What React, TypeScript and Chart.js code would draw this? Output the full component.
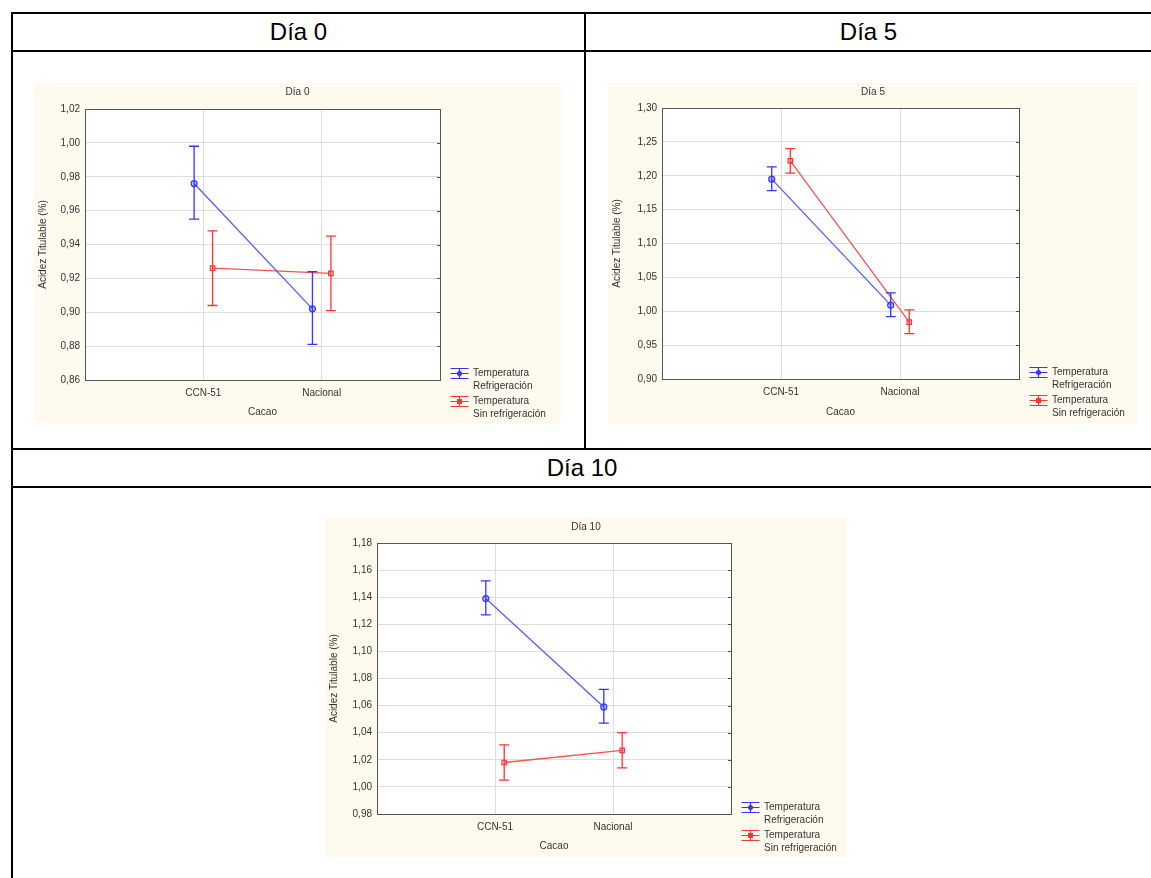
import React, { useEffect, useRef } from 'react';
import { Chart, registerables } from 'chart.js';

Chart.register(...registerables);

// ---------- data ----------
const headerLabels = ['Día 0', 'Día 5', 'Día 10'];
const categories = ['CCN-51', 'Nacional'];
const legendLabels = [
  ['Temperatura', 'Refrigeración'],
  ['Temperatura', 'Sin refrigeración'],
];
const yAxisTitle = 'Acidez Titulable (%)';
const xAxisTitle = 'Cacao';

const day0Ticks = [0.86, 0.88, 0.9, 0.92, 0.94, 0.96, 0.98, 1.0, 1.02];
const day0Refrig = [0.976, 0.902];
const day0RefrigLo = [0.955, 0.881];
const day0RefrigHi = [0.998, 0.924];
const day0Sin = [0.926, 0.923];
const day0SinLo = [0.904, 0.901];
const day0SinHi = [0.948, 0.945];

const day5Ticks = [0.9, 0.95, 1.0, 1.05, 1.1, 1.15, 1.2, 1.25, 1.3];
const day5Refrig = [1.195, 1.009];
const day5RefrigLo = [1.178, 0.992];
const day5RefrigHi = [1.213, 1.027];
const day5Sin = [1.222, 0.984];
const day5SinLo = [1.204, 0.967];
const day5SinHi = [1.240, 1.002];

const day10Ticks = [0.98, 1.0, 1.02, 1.04, 1.06, 1.08, 1.1, 1.12, 1.14, 1.16, 1.18];
const day10Refrig = [1.139, 1.059];
const day10RefrigLo = [1.127, 1.047];
const day10RefrigHi = [1.152, 1.072];
const day10Sin = [1.018, 1.027];
const day10SinLo = [1.005, 1.014];
const day10SinHi = [1.031, 1.040];

// ---------- styles ----------
const FONT = "'Liberation Sans', Arial, Helvetica, sans-serif";
const TEXT = '#333333';
const GRID = '#dddddd';
const PANEL_BG = '#fffaee';
const seriesStyles = [
  { color: '#3535ff', line: '#5a5aff', fill: 'rgba(80,80,255,0.35)', point: 'circle', radius: 3, offset: -0.078 },
  { color: '#ff3535', line: '#ff5050', fill: 'rgba(255,80,80,0.15)', point: 'rect', radius: 3.2, offset: 0.078 },
];

type Insets = { left: number; top: number; right: number; bottom: number };

const plotBgPlugin = {
  id: 'plotBg',
  beforeDraw(chart: any) {
    const a = chart.chartArea;
    const ctx = chart.ctx;
    ctx.save();
    ctx.fillStyle = '#ffffff';
    ctx.fillRect(a.left, a.top, a.right - a.left, a.bottom - a.top);
    ctx.restore();
  },
};

const errorBarPlugin = {
  id: 'errorBars',
  afterDatasetsDraw(chart: any) {
    const ctx = chart.ctx;
    const ys = chart.scales.y;
    chart.data.datasets.forEach((ds: any, i: number) => {
      const meta = chart.getDatasetMeta(i);
      ctx.save();
      ctx.strokeStyle = ds.errColor;
      ctx.lineWidth = 1.3;
      meta.data.forEach((pt: any, j: number) => {
        const x = pt.x;
        const yl = ys.getPixelForValue(ds.errLo[j]);
        const yh = ys.getPixelForValue(ds.errHi[j]);
        ctx.beginPath();
        ctx.moveTo(x, yl);
        ctx.lineTo(x, yh);
        ctx.moveTo(x - 5, yl);
        ctx.lineTo(x + 5, yl);
        ctx.moveTo(x - 5, yh);
        ctx.lineTo(x + 5, yh);
        ctx.stroke();
      });
      ctx.restore();
    });
  },
};

const framePlugin = {
  id: 'frameLegend',
  afterDraw(chart: any, _args: any, opts: any) {
    const ctx = chart.ctx;
    const a = chart.chartArea;
    ctx.save();
    // plot frame
    ctx.strokeStyle = '#555555';
    ctx.lineWidth = 1;
    ctx.strokeRect(Math.round(a.left) + 0.5, Math.round(a.top) + 0.5, Math.round(a.right - a.left), Math.round(a.bottom - a.top));
    // small tick marks on the right border
    const ys = chart.scales.y;
    ys.ticks.forEach((t: any) => {
      const y = Math.round(ys.getPixelForValue(t.value)) + 0.5;
      ctx.beginPath();
      ctx.moveTo(a.right - 3, y);
      ctx.lineTo(a.right, y);
      ctx.stroke();
    });
    // title
    ctx.fillStyle = TEXT;
    ctx.font = `10px ${FONT}`;
    ctx.textAlign = 'center';
    ctx.textBaseline = 'middle';
    ctx.fillText(opts.title, chart.width / 2, opts.titleY);
    // legend
    const ix = a.right + 19.5;
    const tx = a.right + 33;
    const rowsY = [a.bottom - 7, a.bottom + 21];
    chart.data.datasets.forEach((ds: any, i: number) => {
      const st = seriesStyles[i];
      const cy = Math.round(rowsY[i]) + 0.5;
      ctx.strokeStyle = st.color;
      ctx.lineWidth = 1.2;
      ctx.beginPath();
      ctx.moveTo(ix - 9, cy - 5);
      ctx.lineTo(ix + 9, cy - 5);
      ctx.moveTo(ix - 9, cy + 5);
      ctx.lineTo(ix + 9, cy + 5);
      ctx.moveTo(ix - 9, cy);
      ctx.lineTo(ix + 9, cy);
      ctx.moveTo(ix, cy - 5);
      ctx.lineTo(ix, cy + 5);
      ctx.stroke();
      ctx.fillStyle = st.color;
      if (st.point === 'circle') {
        ctx.beginPath();
        ctx.arc(ix, cy, 2.5, 0, Math.PI * 2);
        ctx.fill();
      } else {
        ctx.fillRect(ix - 2.5, cy - 2.5, 5, 5);
      }
      ctx.fillStyle = TEXT;
      ctx.textAlign = 'left';
      ctx.textBaseline = 'middle';
      legendLabels[i].forEach((line, k) => {
        ctx.fillText(line, tx, rowsY[i] + k * 13);
      });
    });
    ctx.restore();
  },
};

type PanelProps = {
  left: number;
  top: number;
  width: number;
  height: number;
  title: string;
  ticks: number[];
  means: number[][];
  los: number[][];
  his: number[][];
  inset: Insets;
};

function ChartPanel(p: PanelProps) {
  const ref = useRef<HTMLCanvasElement | null>(null);
  useEffect(() => {
    if (!ref.current) return;
    const font = { family: FONT, size: 10 };
    const chart = new Chart(ref.current, {
      type: 'line',
      data: {
        datasets: seriesStyles.map((s, i) => ({
          label: legendLabels[i].join(' '),
          data: p.means[i].map((v, j) => ({ x: j + 1 + s.offset, y: v })),
          errLo: p.los[i],
          errHi: p.his[i],
          errColor: s.color,
          borderColor: s.line,
          borderWidth: 1.3,
          pointStyle: s.point,
          pointRadius: s.radius,
          pointBorderColor: s.color,
          pointBackgroundColor: s.fill,
          pointBorderWidth: 1.2,
          showLine: true,
          fill: false,
          tension: 0,
        })) as any,
      },
      options: {
        animation: false,
        responsive: false,
        maintainAspectRatio: false,
        events: [],
        layout: { padding: { top: p.inset.top, left: 0, right: p.inset.right, bottom: 0 } },
        plugins: {
          legend: { display: false },
          tooltip: { enabled: false },
          title: { display: false },
          frameLegend: { title: p.title, titleY: 9 },
        } as any,
        scales: {
          x: {
            type: 'linear',
            min: 0,
            max: categories.length + 1,
            afterBuildTicks: (sc: any) => {
              sc.ticks = categories.map((_, i) => ({ value: i + 1 }));
            },
            afterFit: (sc: any) => {
              sc.height = p.inset.bottom;
            },
            ticks: {
              callback: (v: any) => categories[Math.round(Number(v)) - 1] ?? '',
              autoSkip: false,
              maxRotation: 0,
              padding: 7,
              color: TEXT,
              font,
            },
            grid: { color: GRID, drawTicks: false, lineWidth: 1 },
            border: { display: false },
            title: { display: true, text: xAxisTitle, color: TEXT, font, padding: { top: 0, bottom: 5 } },
          },
          y: {
            type: 'linear',
            min: p.ticks[0],
            max: p.ticks[p.ticks.length - 1],
            afterBuildTicks: (sc: any) => {
              sc.ticks = p.ticks.map((v) => ({ value: v }));
            },
            afterFit: (sc: any) => {
              sc.width = p.inset.left;
            },
            ticks: {
              callback: (v: any) => Number(v).toFixed(2).replace('.', ','),
              padding: 5,
              color: TEXT,
              font,
            },
            grid: { color: GRID, drawTicks: false, lineWidth: 1 },
            border: { display: false },
            title: { display: true, text: yAxisTitle, color: TEXT, font, padding: { top: 3, bottom: 0 } },
          },
        },
      } as any,
      plugins: [plotBgPlugin, errorBarPlugin, framePlugin],
    });
    return () => chart.destroy();
  }, []);
  return (
    <canvas
      ref={ref}
      width={p.width}
      height={p.height}
      style={{
        position: 'absolute',
        left: p.left,
        top: p.top,
        width: p.width,
        height: p.height,
        background: PANEL_BG,
      }}
    />
  );
}

const line = (left: number, top: number, width: number, height: number) => (
  <div style={{ position: 'absolute', left, top, width, height, background: '#000' }} />
);

const headerStyle = (left: number, top: number, width: number): React.CSSProperties => ({
  position: 'absolute',
  left,
  top,
  width,
  height: 36,
  lineHeight: '36px',
  textAlign: 'center',
  fontFamily: FONT,
  fontSize: 24,
  color: '#000',
});

export default function App() {
  return (
    <div
      style={{
        position: 'absolute',
        left: 0,
        top: 0,
        width: 1151,
        height: 878,
        background: '#ffffff',
        overflow: 'hidden',
        fontFamily: FONT,
      }}
    >
      {line(11, 12, 1140, 2)}
      {line(11, 50, 1140, 2)}
      {line(11, 448, 1140, 2)}
      {line(11, 486, 1140, 2)}
      {line(11, 12, 2, 866)}
      {line(584, 12, 2, 437)}
      <div style={headerStyle(13, 14, 571)}>{headerLabels[0]}</div>
      <div style={headerStyle(586, 14, 565)}>{headerLabels[1]}</div>
      <div style={headerStyle(13, 450, 1138)}>{headerLabels[2]}</div>

      <ChartPanel
        left={34}
        top={83}
        width={527}
        height={340}
        title={headerLabels[0]}
        ticks={day0Ticks}
        means={[day0Refrig, day0Sin]}
        los={[day0RefrigLo, day0SinLo]}
        his={[day0RefrigHi, day0SinHi]}
        inset={{ left: 51, top: 26, right: 121, bottom: 43 }}
      />
      <ChartPanel
        left={608}
        top={83}
        width={530}
        height={340}
        title={headerLabels[1]}
        ticks={day5Ticks}
        means={[day5Refrig, day5Sin]}
        los={[day5RefrigLo, day5SinLo]}
        his={[day5RefrigHi, day5SinHi]}
        inset={{ left: 54, top: 25, right: 119, bottom: 44 }}
      />
      <ChartPanel
        left={325}
        top={518}
        width={522}
        height={339}
        title={headerLabels[2]}
        ticks={day10Ticks}
        means={[day10Refrig, day10Sin]}
        los={[day10RefrigLo, day10SinLo]}
        his={[day10RefrigHi, day10SinHi]}
        inset={{ left: 52, top: 25, right: 116, bottom: 43 }}
      />
    </div>
  );
}
